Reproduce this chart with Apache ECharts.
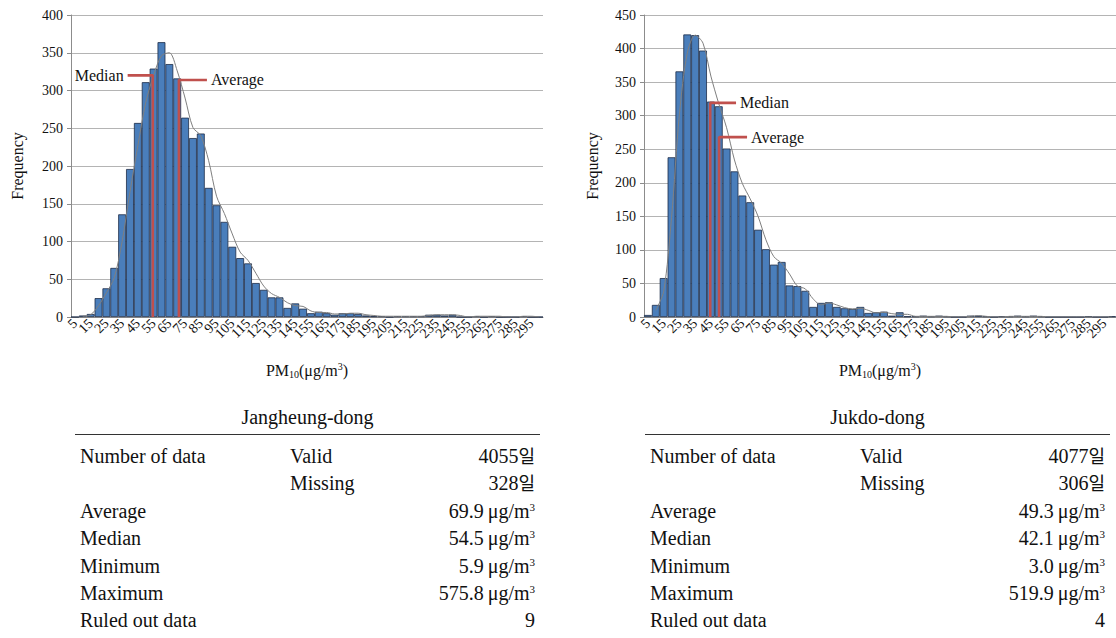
<!DOCTYPE html>
<html lang="en">
<head>
<meta charset="UTF-8">
<title>PM10 frequency distribution</title>
<script src="https://cdn.jsdelivr.net/npm/echarts@6/dist/echarts.min.js"></script>
<style>
  body { margin: 0; background: #fff; }
  #chart { position: absolute; left: 0; top: 0; width: 1116px; height: 392px; }
  .tbl { position: absolute; width: 465px; font-family: "Liberation Serif", "Noto Sans CJK KR", serif; font-size: 20px; color: #111; }
  .tbl .title { height: 30px; line-height: 26px; text-align: center; border-bottom: 1.3px solid #333; }
  .tbl .rows { padding-top: 8px; }
  .tbl .row { position: relative; height: 27.4px; line-height: 27.4px; }
  .tbl .c1 { position: absolute; left: 5px; }
  .tbl .c2 { position: absolute; left: 215px; }
  .tbl .c3 { position: absolute; right: 5px; }
  .tbl .kr { font-size: 18px; }
  .tbl sup { font-size: 11px; vertical-align: 7px; line-height: 0; }
</style>
</head>
<body>
<div id="chart"></div>
<div class="tbl" id="tblLeft" style="left:75px;top:404px"></div>
<div class="tbl" id="tblRight" style="left:645px;top:404px"></div>
<script>
// bins (upper bound, ug/m3)
var categories = ['5','10','15','20','25','30','35','40','45','50','55','60','65','70','75','80','85','90','95','100',
  '105','110','115','120','125','130','135','140','145','150','155','160','165','170','175','180','185','190','195','200',
  '205','210','215','220','225','230','235','240','245','250','255','260','265','270','275','280','285','290','295','300'];

// Jangheung-dong
var jangheungFreq = [0,2,4,25,38,65,136,196,257,311,329,364,335,316,264,237,243,171,148,126,
  93,78,71,45,36,26,26,12,18,11,5,7,5,3,5,5,4,2,1,1,
  0,1,1,1,1,3,3,2,3,0,0,1,0,1,0,0,0,1,0,0];
var jangheungTrend = [null,1,3,15,32,52,100,166,227,284,320,346,350,326,290,251,240,207,160,137,
  110,86,75,58,41,31,26,19,15,14,8,6,6,4,4,5,5,3,2,1,
  1,1,1,1,1,2,3,3,3,2,0,1,1,1,1,0,0,1,1,0];

// Jukdo-dong
var jukdoFreq = [3,18,58,238,366,421,420,397,321,314,251,217,181,171,130,101,78,82,47,46,
  39,15,21,22,15,13,12,15,6,7,8,2,7,1,1,2,1,2,1,0,
  0,2,2,1,0,1,1,2,1,2,1,0,0,0,0,0,1,0,0,1];
var jukdoTrend = [null,10,38,148,302,393,420,408,359,318,282,234,199,176,150,115,90,80,64,46,
  42,27,18,21,18,14,12,13,10,6,7,5,4,4,1,1,1,1,1,0,
  0,1,2,1,0,0,1,1,1,1,1,0,0,0,0,0,0,0,0,0];

// median / average markers as drawn (x in ug/m3, top in frequency, stub end in ug/m3)
var markNames = ['Median', 'Average'];
var jangheungMarkX = [52, 68.6];
var jangheungMarkTop = [320, 314];
var jangheungStubEnd = [36, 86.4];
var jukdoMarkX = [42.1, 47.7];
var jukdoMarkTop = [319, 268];
var jukdoStubEnd = [58.5, 65.5];

var yMaxLeft = 400, yMaxRight = 450, yStep = 50;

// tables
var statLabels = ['Number of data', '', 'Average', 'Median', 'Minimum', 'Maximum', 'Ruled out data'];
var statSub = ['Valid', 'Missing', '', '', '', '', ''];
var statUnit = [false, false, true, true, true, true, false];
var jangheungStats = ['4055일', '328일', '69.9', '54.5', '5.9', '575.8', '9'];
var jukdoStats = ['4077일', '306일', '49.3', '42.1', '3.0', '519.9', '4'];

function buildTable(el, title, stats) {
  var h = '<div class="title">' + title + '</div><div class="rows">';
  for (var i = 0; i < statLabels.length; i++) {
    var v = stats[i].replace('일', '<span class="kr">일</span>');
    h += '<div class="row"><span class="c1">' + statLabels[i] + '</span><span class="c2">' + statSub[i] +
      '</span><span class="c3">' + v + (statUnit[i] ? '&thinsp;μg/m<sup>3</sup>' : '') + '</span></div>';
  }
  el.innerHTML = h + '</div>';
}
buildTable(document.getElementById('tblLeft'), 'Jangheung-dong', jangheungStats);
buildTable(document.getElementById('tblRight'), 'Jukdo-dong', jukdoStats);

var FONT = 'Liberation Serif';
var red = '#c0504d';

function catAxis(g) {
  return {
    type: 'category', gridIndex: g, data: categories,
    axisLine: { lineStyle: { color: '#8c8c8c' } },
    axisTick: { show: false },
    axisLabel: {
      interval: 0, rotate: 45, margin: 4, showMinLabel: true, showMaxLabel: true, hideOverlap: false,
      // every other bin is labelled
      formatter: function (v, i) { return i % 2 ? '' : v; },
      fontFamily: FONT, fontSize: 14, color: '#111'
    },
    name: '{n|PM}{s|10}{n|(μg/m}{p|3}{n|)}',
    nameLocation: 'middle', nameGap: 43,
    nameTextStyle: {
      rich: {
        n: { fontFamily: FONT, fontSize: 16, color: '#111', lineHeight: 20 },
        s: { fontFamily: FONT, fontSize: 10, color: '#111', lineHeight: 20, padding: [8, 0, 0, 0] },
        p: { fontFamily: FONT, fontSize: 10, color: '#111', lineHeight: 20, padding: [0, 0, 8, 0] }
      }
    }
  };
}
function valAxisX(g) {
  return { type: 'value', gridIndex: g, min: 0, max: 300, show: false };
}
function yAxis(g, max, gap) {
  return {
    type: 'value', gridIndex: g, min: 0, max: max, interval: yStep,
    name: 'Frequency', nameLocation: 'middle', nameGap: gap,
    nameTextStyle: { fontFamily: FONT, fontSize: 16, color: '#111' },
    axisLine: { show: true, lineStyle: { color: '#8c8c8c' } },
    axisTick: { show: true, length: 4, lineStyle: { color: '#8c8c8c' } },
    axisLabel: { margin: 8, fontFamily: FONT, fontSize: 14, color: '#111' },
    splitLine: { lineStyle: { color: '#b4b4b4', width: 1 } }
  };
}
function barSeries(x, y, data) {
  return {
    type: 'bar', xAxisIndex: x, yAxisIndex: y, data: data, barCategoryGap: '0%',
    itemStyle: { color: '#4a7ebb', borderColor: '#1d2c47', borderWidth: 0.8 }
  };
}
function trendSeries(x, y, data) {
  return {
    type: 'line', xAxisIndex: x, yAxisIndex: y, data: data, smooth: 0.3,
    symbol: 'none', lineStyle: { color: '#7f7f7f', width: 1 }
  };
}
function markSeries(x, y, xs, tops, stubs) {
  var out = [];
  for (var i = 0; i < xs.length; i++) {
    var toLeft = stubs[i] < xs[i];
    out.push({
      type: 'line', xAxisIndex: x, yAxisIndex: y, symbol: 'circle', symbolSize: 0,
      lineStyle: { color: red, width: 2.6 },
      data: [
        [xs[i], 0],
        [xs[i], tops[i]],
        { value: [stubs[i], tops[i]], label: { show: true, formatter: markNames[i], position: toLeft ? 'left' : 'right',
          distance: 4, fontFamily: FONT, fontSize: 16, color: '#111' } }
      ]
    });
  }
  return out;
}

var chart = echarts.init(document.getElementById('chart'), null, { renderer: 'svg' });
chart.setOption({
  animation: false,
  grid: [
    { left: 71, top: 15, width: 472, height: 302 },
    { left: 644, top: 15, width: 472, height: 302 }
  ],
  xAxis: [catAxis(0), valAxisX(0), catAxis(1), valAxisX(1)],
  yAxis: [yAxis(0, yMaxLeft, 46), yAxis(1, yMaxRight, 44)],
  series: [
    barSeries(0, 0, jangheungFreq),
    trendSeries(0, 0, jangheungTrend),
    barSeries(2, 1, jukdoFreq),
    trendSeries(2, 1, jukdoTrend)
  ].concat(markSeries(1, 0, jangheungMarkX, jangheungMarkTop, jangheungStubEnd))
   .concat(markSeries(3, 1, jukdoMarkX, jukdoMarkTop, jukdoStubEnd))
});
</script>
</body>
</html>
